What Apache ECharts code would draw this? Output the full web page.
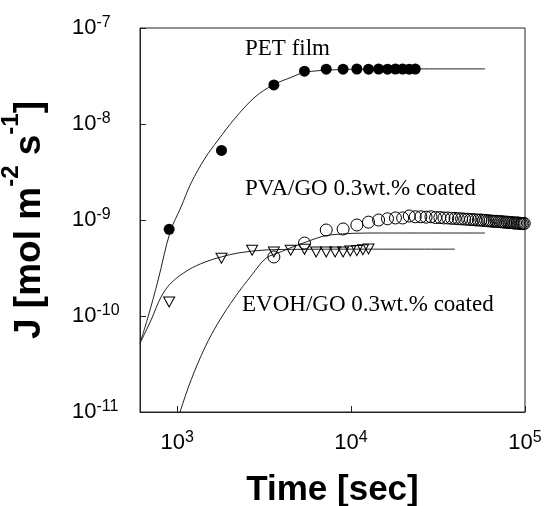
<!DOCTYPE html>
<html><head><meta charset="utf-8">
<script src="https://cdn.jsdelivr.net/npm/echarts@6/dist/echarts.min.js"></script>
<style>html,body{margin:0;padding:0;background:#fff}#c{width:545px;height:506px}</style>
</head><body><div id="c"></div>
<script>
// ---- data ----
const xTickExponents = [3, 4, 5];
const yTickExponents = [-7, -8, -9, -10, -11];
const xTitle = 'Time [sec]';
const yTitle = 'J [mol m{sup|-2} s{sup|-1}]';
const labelPET = 'PET film';
const labelPVA = 'PVA/GO 0.3wt.% coated';
const labelEVOH = 'EVOH/GO 0.3wt.% coated';

const petTime = [900, 1800, 3600, 5400, 7200, 9000, 10800, 12600, 14400, 16200, 18000, 19800, 21600, 23400];
const petFlux = [8.0e-10, 5.3e-9, 2.55e-8, 3.55e-8, 3.72e-8, 3.72e-8, 3.74e-8, 3.72e-8, 3.74e-8, 3.72e-8, 3.74e-8, 3.74e-8, 3.72e-8, 3.74e-8];

const evohTime = [900, 1800, 2700, 3600, 4500, 5400, 6300, 7200, 8100, 9000, 9900, 10800, 11700, 12600];
const evohFlux = [1.40e-10, 4.0e-10, 4.85e-10, 4.65e-10, 4.85e-10, 4.95e-10, 4.65e-10, 4.65e-10, 4.65e-10, 4.65e-10, 4.75e-10, 4.8e-10, 4.9e-10, 5.0e-10];

const pvaTime = [3600, 5400, 7200, 9000, 10800, 12600, 14400, 16200, 18000, 19800, 21600, 23400, 25200, 27000, 28800, 30600, 32400, 34200, 36000, 37800, 39600, 41400, 43200, 45000, 46800, 48600, 50400, 52200, 54000, 55800, 57600, 59400, 61200, 63000, 64800, 66600, 68400, 70200, 72000, 73800, 75600, 77400, 79200, 81000, 82800, 84600, 86400, 88200, 90000, 91800, 93600, 95400, 97200, 99000];
const pvaFlux = [4.12e-10, 5.75e-10, 7.87e-10, 8.06e-10, 8.87e-10, 9.5e-10, 1.0e-9, 1.03e-9, 1.05e-9, 1.05e-9, 1.10e-9, 1.08e-9, 1.08e-9, 1.07e-9, 1.08e-9, 1.06e-9, 1.06e-9, 1.05e-9, 1.05e-9, 1.04e-9, 1.04e-9, 1.03e-9, 1.03e-9, 1.02e-9, 1.02e-9, 1.01e-9, 1.01e-9, 1.0e-9, 1.0e-9, 1.0e-9, 0.99e-9, 0.99e-9, 0.98e-9, 0.98e-9, 0.97e-9, 0.97e-9, 0.97e-9, 0.96e-9, 0.96e-9, 0.96e-9, 0.95e-9, 0.95e-9, 0.95e-9, 0.94e-9, 0.94e-9, 0.94e-9, 0.93e-9, 0.93e-9, 0.93e-9, 0.93e-9, 0.92e-9, 0.92e-9, 0.92e-9, 0.92e-9];

const petFitTime = [612, 681, 778, 912, 1054, 1204, 1449, 1720, 2155, 2805, 3562, 4500, 5430, 7570, 12800, 25000, 59000];
const petFitFlux = [5.2e-11, 9.8e-11, 2.37e-10, 7.5e-10, 1.37e-9, 2.43e-9, 4.42e-9, 6.8e-9, 1.15e-8, 1.91e-8, 2.55e-8, 3.05e-8, 3.45e-8, 3.65e-8, 3.74e-8, 3.75e-8, 3.75e-8];

const evohFitTime = [612, 709, 809, 924, 1157, 1449, 1790, 2242, 3204, 5093, 10000, 39600];
const evohFitFlux = [5.2e-11, 9.1e-11, 1.58e-10, 2.21e-10, 3.01e-10, 3.65e-10, 4.12e-10, 4.53e-10, 4.87e-10, 4.95e-10, 4.97e-10, 4.97e-10];

const pvaFitTime = [1000, 1040, 1204, 1449, 1720, 2155, 2700, 3250, 4000, 5297, 7570, 14680, 58900];
const pvaFitFlux = [7.5e-12, 1.0e-11, 2.16e-11, 4.75e-11, 8.46e-11, 1.58e-10, 2.7e-10, 4.0e-10, 4.7e-10, 5.75e-10, 6.98e-10, 7.32e-10, 7.32e-10];

// ---- chart ----
function zip(a, b) { return a.map((v, i) => [v, b[i]]); }
function powLabel(exps) {
  return function (v) {
    const e = Math.log10(v), r = Math.round(e);
    if (Math.abs(e - r) > 1e-6 || exps.indexOf(r) < 0) return '';
    return '{b|10}{s|' + (r < 0 ? '-' + (-r) : String(r)) + '}';
  };
}
const SANS = '"Liberation Sans", Arial, sans-serif';
const SERIF = '"Liberation Serif", "Times New Roman", serif';
const labelRich = {
  b: { fontSize: 22, lineHeight: 26, fontFamily: SANS, color: '#000' },
  s: { fontSize: 16, lineHeight: 16, fontFamily: SANS, color: '#000', verticalAlign: 'top' }
};
const axisCommon = {
  type: 'log', logBase: 10,
  axisLine: { show: true, lineStyle: { color: '#222', width: 1 } },
  axisTick: { show: true, inside: true, length: 6, lineStyle: { color: '#222' } },
  splitLine: { show: false },
  minorTick: { show: false }
};
const fitLine = { type: 'line', smooth: 0.35, showSymbol: false, symbol: 'none', lineStyle: { color: '#222', width: 1 }, clip: true, z: 2 };
const chart = echarts.init(document.getElementById('c'), null, { renderer: 'canvas' });
chart.setOption({
  animation: false,
  backgroundColor: '#fff',
  grid: { left: 140, right: 20, top: 28, bottom: 94, show: true, borderColor: '#222', borderWidth: 1, outerBoundsMode: 'none' },
  xAxis: Object.assign({}, axisCommon, {
    min: 612, max: 1e5,
    axisLabel: { formatter: powLabel(xTickExponents), rich: labelRich, margin: 18, showMinLabel: true, showMaxLabel: true },
    name: xTitle, nameLocation: 'middle', nameGap: 61,
    nameTextStyle: { fontSize: 35, fontWeight: 'bold', fontFamily: SANS, color: '#000' }
  }),
  yAxis: Object.assign({}, axisCommon, {
    min: 1e-11, max: 1e-7,
    axisLabel: { formatter: powLabel(yTickExponents), rich: labelRich, margin: 68, align: 'left' },
    name: yTitle, nameLocation: 'middle', nameGap: 57, nameRotate: 90,
    nameTextStyle: {
      fontSize: 37, fontWeight: 'bold', fontFamily: SANS, color: '#000', lineHeight: 62,
      rich: { sup: { fontSize: 24, fontWeight: 'bold', fontFamily: SANS, color: '#000', lineHeight: 24, verticalAlign: 'top' } }
    }
  }),
  series: [
    Object.assign({}, fitLine, { data: zip(petFitTime, petFitFlux) }),
    Object.assign({}, fitLine, { data: zip(pvaFitTime, pvaFitFlux) }),
    Object.assign({}, fitLine, { data: zip(evohFitTime, evohFitFlux) }),
    { type: 'scatter', data: zip(petTime, petFlux), symbol: 'circle', symbolSize: 11, itemStyle: { color: '#000', opacity: 1 }, z: 3 },
    { type: 'scatter', data: zip(pvaTime, pvaFlux), symbol: 'circle', symbolSize: 12, itemStyle: { color: 'rgba(0,0,0,0)', borderColor: '#000', borderWidth: 1, opacity: 1 }, z: 3 },
    { type: 'scatter', data: zip(evohTime, evohFlux), symbol: 'triangle', symbolRotate: 180, symbolSize: [11, 10], itemStyle: { color: 'rgba(0,0,0,0)', borderColor: '#000', borderWidth: 1, opacity: 1 }, z: 3 }
  ],
  graphic: [
    { type: 'text', x: 245, y: 49, style: { text: labelPET, font: '23px ' + SERIF, fill: '#000', verticalAlign: 'middle', align: 'left' } },
    { type: 'text', x: 245, y: 189, style: { text: labelPVA, font: '23px ' + SERIF, fill: '#000', verticalAlign: 'middle', align: 'left' } },
    { type: 'text', x: 242, y: 305, style: { text: labelEVOH, font: '23px ' + SERIF, fill: '#000', verticalAlign: 'middle', align: 'left' } }
  ]
});
</script>
</body></html>
